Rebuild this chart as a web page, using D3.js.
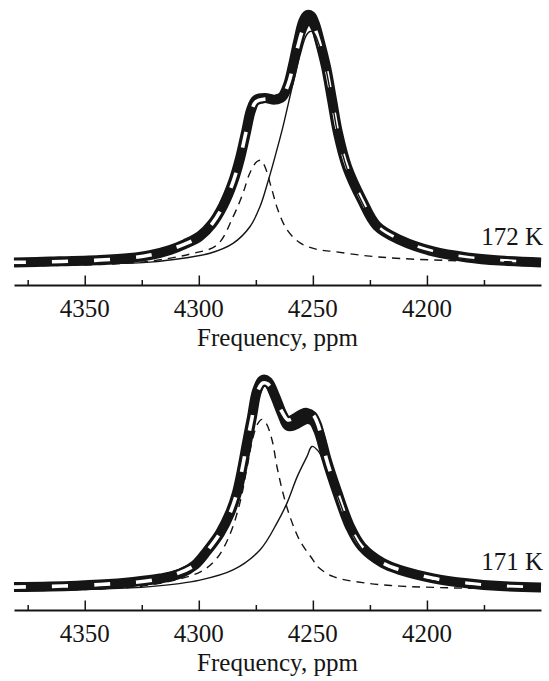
<!DOCTYPE html>
<html>
<head>
<meta charset="utf-8">
<script src="https://cdn.jsdelivr.net/npm/d3@7"></script>
</head>
<body style="margin:0">
<svg id="chart" width="549" height="681"></svg>
<script>
// spectra as [ppm, intensity] pairs (intensity in a.u.)

// 172 K
const exp172 = [[4381,3.7],[4365.2,4.0],[4343.3,4.6],[4330.2,5.4],[4321.4,6.5],[4312.6,8.5],[4306,10.8],[4299.5,13.8],
	[4294.2,18.5],[4289.4,25.4],[4285,34.6],[4281.9,43.8],[4279.3,53.8],[4277.1,62.3],[4274.9,66.2],[4271,66.9],
	[4266.6,66.3],[4263.5,67.3],[4260.9,71.9],[4258.7,79.6],[4256.5,88.5],[4254.3,96.2],[4252.5,98.8],[4250.8,98.5],
	[4249.1,95.4],[4246.9,88.5],[4244.2,78.8],[4241.6,66.2],[4239,53.5],[4235,40.4],[4228.5,27.7],[4221.9,17.7],
	[4211.8,12.3],[4197.3,7.9],[4182.4,5.6],[4168,4.4],[4150,3.7]]
const fit172 = [[4381,3.7],[4343.3,4.6],[4321.4,6.5],[4306,10.8],[4299.5,13.8],[4294.2,18.5],[4289.4,25.4],[4285,34.6],
	[4281.9,43.8],[4279.3,53.8],[4277.1,61.5],[4274.9,65.5],[4271,66.5],[4266.6,66.5],[4263.5,67.5],[4260.9,72],
	[4258.7,79],[4256.5,87],[4254.3,93.5],[4252.6,96],[4250.8,96],[4249.1,93.5],[4246.9,87.5],[4244.2,78.5],
	[4241.6,66.2],[4239,53.5],[4235,40.4],[4228.5,27.7],[4221.9,17.7],[4211.8,12.3],[4197.3,7.9],[4182.4,5.6],
	[4168,4.4],[4150,3.7]]
const lorA172 = [[4381,2.7],[4343.3,3.1],[4321.4,3.8],[4306.9,5.3],[4295.1,7.2],[4285,11.0],[4277.6,17.4],[4273.2,25.1],
	[4269.7,34.7],[4266.6,44.3],[4263.1,55.9],[4258.7,72.6],[4255.6,83.5],[4253,90.8],[4251.3,92.5],[4249.5,91.9],
	[4247.7,88.5],[4244.2,77.7],[4241.6,65.4],[4239,52.7],[4235,39.6],[4228.5,26.9],[4221.9,16.9],[4211.8,11.5],
	[4197.3,7.3],[4182.4,5.0],[4168,3.8],[4150,3.1]]
const lorB172 = [[4381,2.3],[4343.3,2.9],[4321.4,4.2],[4303.9,6.9],[4292,10.4],[4285,21.2],[4280.6,30.4],[4277.6,38.1],
	[4274.6,42.4],[4272.7,42.9],[4271,40.5],[4267.9,31.5],[4265.3,23.8],[4261.3,16.2],[4255.6,11.2],[4248.2,8.7],
	[4241.2,7.9],[4226.3,6.2],[4211.8,5.2],[4189.9,4.4],[4168,4.0],[4150,3.7]]

// 171 K
const exp171 = [[4381,3.8],[4365.2,4.0],[4343.3,4.8],[4328.8,5.8],[4317,7.1],[4308.2,9.0],[4301.7,12.3],[4296.4,17.7],
	[4290.7,24.6],[4286.3,32.3],[4283.3,40.0],[4281.1,48.8],[4278.9,59.2],[4276.7,69.2],[4274.5,79.2],[4271.9,83.5],
	[4269.7,82.9],[4266.6,77.3],[4263.5,70.4],[4260.9,65.8],[4257.8,66.2],[4254.8,67.7],[4252.6,68.5],[4249.9,67.7],
	[4247.7,64.2],[4246,59.6],[4244.2,53.5],[4239.2,40.0],[4233.7,27.0],[4228.5,19.3],[4219.3,13.0],[4211.8,10.4],
	[4197.3,7.2],[4182.4,5.3],[4168,4.2],[4150,3.7]]
const fit171 = [[4381,3.8],[4343.3,4.8],[4317,7.1],[4301.7,12.3],[4296.4,17.7],[4290.7,24.6],[4286.3,32.3],[4283.3,40.0],
	[4281.1,48.8],[4278.9,59.0],[4276.7,68.8],[4274.5,78.5],[4271.9,82.3],[4269.7,81.9],[4266.6,76.9],[4263.5,71.2],
	[4260.9,68.1],[4257.8,69.2],[4254.8,70.8],[4252.6,71.2],[4249.9,70.0],[4247.7,66.2],[4246,60.4],[4244.2,53.5],
	[4239.2,40.0],[4233.7,27.0],[4228.5,19.3],[4219.3,13.0],[4211.8,10.4],[4197.3,7.2],[4182.4,5.3],[4168,4.2],[4150,3.7]]
const lorA171 = [[4381,2.7],[4343.3,3.1],[4321.4,4.0],[4299.5,6.5],[4285,10.4],[4273.2,18.1],[4265.7,28.5],[4261.3,36.2],
	[4256.9,46.2],[4252.6,54.0],[4250.4,57.9],[4247.7,56.2],[4245.6,52.7],[4243.4,47.3],[4239.2,38.8],[4233.7,26.2],
	[4228.5,18.5],[4219.3,11.9],[4211.8,9.2],[4197.3,6.2],[4182.4,4.4],[4168,3.5],[4150,2.9]]
const lorB171 = [[4381,2.5],[4343.3,3.1],[4321.4,4.6],[4299.5,9.6],[4292,15.0],[4286.3,24.2],[4281.9,36.5],[4278.9,49.6],
	[4276.2,61.5],[4274,66.9],[4272.3,68.3],[4270.5,66.9],[4267.9,60.4],[4265.7,50.0],[4263.1,40.0],[4260,30.8],
	[4255.6,21.5],[4249.9,14.2],[4248.2,11.9],[4241.2,7.9],[4226.3,5.3],[4211.8,4.2],[4197.3,3.7],[4168,3.1],[4150,2.7]]

const majorTicks = [4350, 4300, 4250, 4200]
const minorTicks = [4375, 4325, 4275, 4225, 4175]
const xTitle = "Frequency, ppm"
const temps = ["172 K", "171 K"]

const INK = "#151515"
const svg = d3.select("#chart")
const x = d3.scaleLinear().domain([4381, 4150]).range([14, 541])   // reversed ppm axis

const panels = [
	{temp: temps[0], exp: exp172, fit: fit172, lorA: lorA172, lorB: lorB172, dy: 0},
	{temp: temps[1], exp: exp171, fit: fit171, lorA: lorA171, lorB: lorB171, dy: 325}
]

panels.forEach(drawPanel)
panels.forEach(drawLabels)   // texts go straight onto the svg, outside any transformed group

function drawPanel(p) {
	const g = svg.append("g").attr("transform", `translate(0,${p.dy})`)
	const y = d3.scaleLinear().domain([0, 100]).range([272, 12])
	const line = d3.line().x(d => x(d[0])).y(d => y(d[1])).curve(d3.curveCatmullRom.alpha(0.5))

	// measured spectrum: fat black band
	g.append("path").attr("d", line(p.exp))
		.attr("fill", "none").attr("stroke", INK).attr("stroke-width", 10)
		.attr("stroke-linejoin", "round").attr("stroke-linecap", "butt")
	// fitted sum: white dashes with a black rim
	g.append("path").attr("d", line(p.fit))
		.attr("fill", "none").attr("stroke", INK).attr("stroke-width", 8)
	g.append("path").attr("d", line(p.fit))
		.attr("fill", "none").attr("stroke", "#fff").attr("stroke-width", 3.6)
		.attr("stroke-dasharray", "16,26").attr("stroke-dashoffset", 4)
	// the two components
	g.append("path").attr("d", line(p.lorA))
		.attr("fill", "none").attr("stroke", INK).attr("stroke-width", 1.4)
	g.append("path").attr("d", line(p.lorB))
		.attr("fill", "none").attr("stroke", INK).attr("stroke-width", 1.4)
		.attr("stroke-dasharray", "8,6")

	// axis, ticks pointing up, labels drawn separately
	const axY = 285
	const major = d3.axisBottom(x).tickValues(majorTicks).tickFormat("")
		.tickSizeInner(-9.5).tickSizeOuter(0)
	const minor = d3.axisBottom(x).tickValues(minorTicks).tickSizeInner(-5).tickSizeOuter(0).tickFormat("")
	const ga = g.append("g").attr("transform", `translate(0,${axY})`).call(major)
	g.append("g").attr("transform", `translate(0,${axY})`).call(minor).select(".domain").remove()
	ga.select(".domain").attr("stroke", INK).attr("stroke-width", 2)
	g.selectAll(".tick line").attr("stroke", INK).attr("stroke-width", 1.5)
	g.selectAll(".tick text").remove()
}

function drawLabels(p) {
	const serif = sel => sel.attr("font-size", 25).style("font-family", '"Liberation Serif"').attr("fill", INK)

	svg.selectAll(null).data(majorTicks).enter().append("text")
		.call(serif).attr("x", d => x(d)).attr("y", p.dy + 316.5)
		.attr("text-anchor", "middle").text(d => d3.format("d")(d))
	svg.append("text").call(serif)
		.attr("x", (x.range()[0] + x.range()[1]) / 2).attr("y", p.dy + 345.5)
		.attr("text-anchor", "middle").text(xTitle)
	svg.append("text").call(serif)
		.attr("x", 543).attr("y", p.dy + 245)
		.attr("text-anchor", "end").text(p.temp)
}
</script>
</body>
</html>
